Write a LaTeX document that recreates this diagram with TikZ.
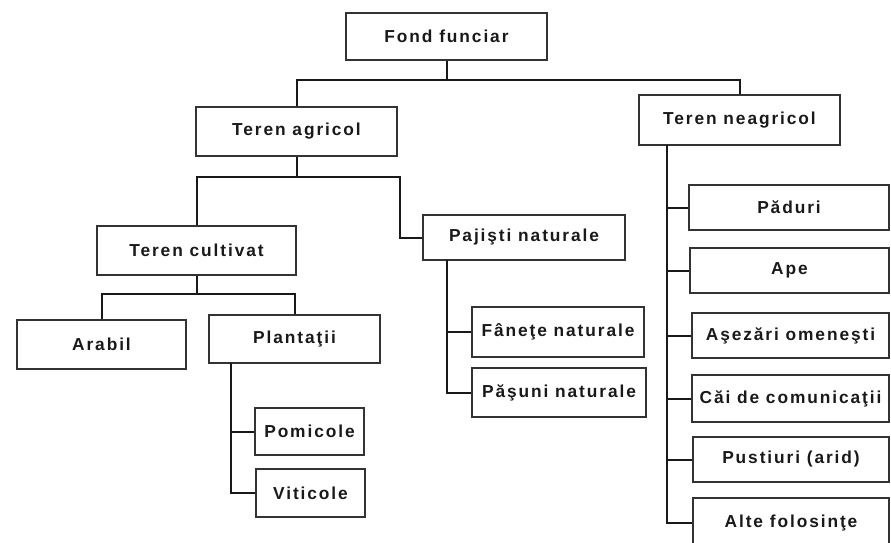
\documentclass[tikz,border=0pt]{standalone}
\usepackage{fontspec}
\setmainfont{Liberation Sans}[LetterSpace=11]
\begin{document}
\begin{tikzpicture}[x=0.75pt,y=-0.75pt,
  box/.style={draw=black!80,line width=0.9pt,inner sep=0pt,
    font=\fontsize{13}{15}\selectfont\bfseries,text=black!90},
  conn/.style={draw=black!90,line width=1.5pt}]
\useasboundingbox (0,0) rectangle (891,542);
\clip (0,0) rectangle (891,542);
% boxes
\node[box,minimum width=150.75pt,minimum height=35.25pt] (fond) at (446.5,36.5) {Fond funciar};
\node[box,minimum width=150.75pt,minimum height=36.75pt] (agr) at (296.5,131.5) {Teren agricol};
\node[box,minimum width=150.75pt,minimum height=37.5pt] (neagr) at (739.5,120) {Teren neagricol};
\node[box,minimum width=149.25pt,minimum height=36.75pt] (cult) at (196.5,250.5) {Teren cultivat};
\node[box,minimum width=151.5pt,minimum height=33.75pt] (paj) at (524,237.5) {Pajişti naturale};
\node[box,minimum width=126.75pt,minimum height=36.75pt] (arabil) at (101.5,344.5) {Arabil};
\node[box,minimum width=128.25pt,minimum height=36pt] (plant) at (294.5,339) {Plantaţii};
\node[box,minimum width=81.75pt,minimum height=35.25pt] (pom) at (309.5,431.5) {Pomicole};
\node[box,minimum width=81.75pt,minimum height=36pt] (vit) at (310.5,493) {Viticole};
\node[box,minimum width=129pt,minimum height=37.5pt] (fan) at (558,332) {Fâneţe naturale};
\node[box,minimum width=130.5pt,minimum height=36.75pt] (pas) at (559,392.5) {Păşuni naturale};
\node[box,minimum width=150pt,minimum height=33.75pt] (padur) at (789,207.5) {Păduri};
\node[box,minimum width=149.25pt,minimum height=33.75pt] (ape) at (789.5,270.5) {Ape};
\node[box,minimum width=147.75pt,minimum height=33.75pt] (asez) at (790.5,335.5) {Aşezări omeneşti};
\node[box,minimum width=147.75pt,minimum height=35.25pt] (cai) at (790.5,398.5) {Căi de comunicaţii};
\node[box,minimum width=147pt,minimum height=33.75pt] (pust) at (791,459.5) {Pustiuri (arid)};
\node[box,minimum width=147pt,minimum height=37.5pt] (alte) at (791,523) {Alte folosinţe};
% bus coordinates
\coordinate (b1) at (0,80);
\coordinate (b2r) at (400,177);
\coordinate (b3) at (0,294);
\coordinate (pv) at (231,363);
\coordinate (jv) at (447,260);
\coordinate (nv) at (667,145);
% connectors
\draw[conn] (fond.south) -- (fond.south |- b1);
\draw[conn] (agr.north) -- (agr.north |- b1) -- (neagr.north |- b1) -- (neagr.north);
\draw[conn] (agr.south) -- (agr.south |- b2r);
\draw[conn] (cult.north) |- (b2r) |- (paj.west);
\draw[conn] (cult.south) -- (cult.south |- b3);
\draw[conn] (arabil.north) -- (arabil.north |- b3) -- (plant.north |- b3) -- (plant.north);
\draw[conn] (pv) |- (vit.west);
\draw[conn] (pv |- pom.west) -- (pom.west);
\draw[conn] (jv) |- (pas.west);
\draw[conn] (jv |- fan.west) -- (fan.west);
\draw[conn] (nv) |- (alte.west);
\draw[conn] (nv |- padur.west) -- (padur.west);
\draw[conn] (nv |- ape.west) -- (ape.west);
\draw[conn] (nv |- asez.west) -- (asez.west);
\draw[conn] (nv |- cai.west) -- (cai.west);
\draw[conn] (nv |- pust.west) -- (pust.west);
\end{tikzpicture}
\end{document}
